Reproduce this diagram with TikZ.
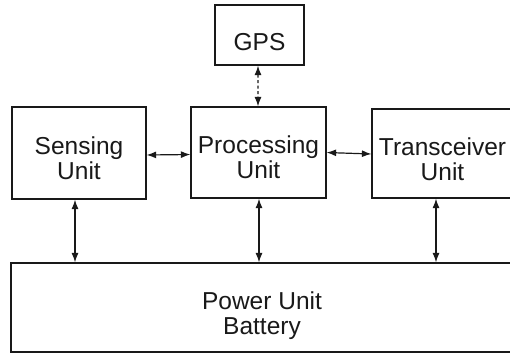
\documentclass[tikz,border=0pt]{standalone}
\usepackage{fontspec}
\setmainfont{Liberation Sans}
\usetikzlibrary{arrows.meta}
\begin{document}
\begin{tikzpicture}[x=1bp,y=-1bp,
  box/.style={draw=black!90, line width=1.2bp, inner sep=0pt},
  txt/.style={inner sep=0pt, align=center, font=\fontsize{24.5bp}{25bp}\selectfont, text=black!90},
  conn/.style={line width=1.2bp, draw=black!90, {Latex[length=9.5bp,width=7bp]}-{Latex[length=9.5bp,width=7bp]}}]
\useasboundingbox (0,0) rectangle (510,354);
\node[box, minimum width=89bp, minimum height=60bp] (gps) at (259.5,35) {};
\node[box, minimum width=134bp, minimum height=92bp] (sens) at (79,153) {};
\node[box, minimum width=135bp, minimum height=91bp] (proc) at (258.5,152.5) {};
\node[box, minimum width=141bp, minimum height=89bp] (trx) at (442.5,153.5) {};
\node[box, minimum width=502bp, minimum height=89bp] (pow) at (262,307.5) {};
\node[txt] (gpst) at ([yshift=-7.5bp]gps.center) {GPS};
\node[txt] (senst) at ([yshift=-5.5bp]sens.center) {Sensing\\Unit};
\node[txt] (proct) at ([yshift=-5bp]proc.center) {Processing\\Unit};
\node[txt] (trxt) at ([yshift=-6bp]trx.center) {Transceiver\\Unit};
\node[txt] (powt) at ([yshift=-8.5bp]pow.center) {Power Unit\\Battery};
\coordinate (cs) at ([xshift=-4bp]sens.south);
\coordinate (cp) at ([xshift=0.5bp]proc.south);
\coordinate (ct) at ([xshift=-6.5bp]trx.south);
\draw[conn, dash pattern=on 3bp off 2.5bp] ([xshift=-1.5bp]gps.south) -- ([xshift=-0.5bp]proc.north);
\draw[conn] ([yshift=-2bp]sens.east) -- ([yshift=-2bp]proc.west);
\draw[conn] (proc.east) -- ([yshift=-0.5bp]trx.west);
\draw[conn] (cs) -- (pow.north -| cs);
\draw[conn] (cp) -- (pow.north -| cp);
\draw[conn] (ct) -- (pow.north -| ct);
\end{tikzpicture}
\end{document}
